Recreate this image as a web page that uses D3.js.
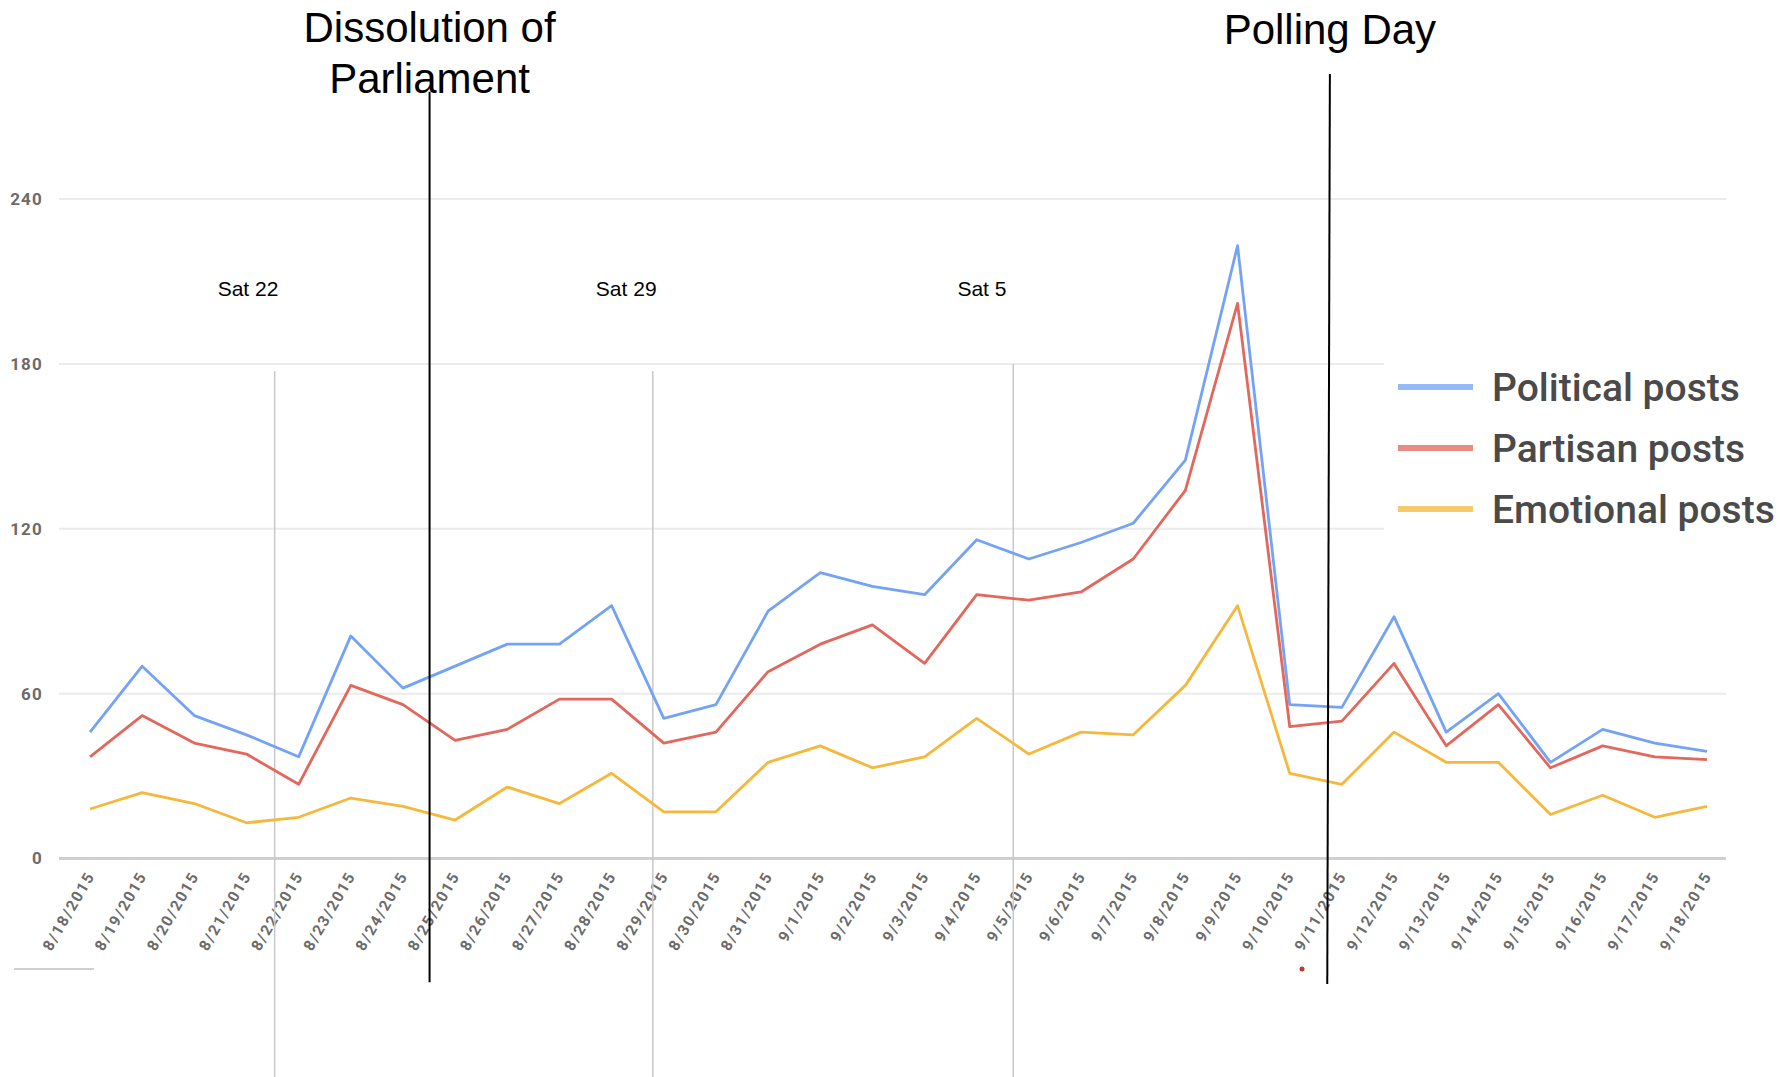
<!DOCTYPE html>
<html><head><meta charset="utf-8">
<script src="https://cdn.jsdelivr.net/npm/d3@7"></script>
<style>html,body{margin:0;padding:0;background:#fff;}svg{display:block;}</style>
</head><body>
<svg id="chart" width="1790" height="1077"></svg>
<script>
const dates = ["8/18/2015","8/19/2015","8/20/2015","8/21/2015","8/22/2015","8/23/2015","8/24/2015","8/25/2015","8/26/2015","8/27/2015","8/28/2015","8/29/2015","8/30/2015","8/31/2015","9/1/2015","9/2/2015","9/3/2015","9/4/2015","9/5/2015","9/6/2015","9/7/2015","9/8/2015","9/9/2015","9/10/2015","9/11/2015","9/12/2015","9/13/2015","9/14/2015","9/15/2015","9/16/2015","9/17/2015","9/18/2015"];
const political = [46,70,52,45,37,81,62,70,78,78,92,51,56,90,104,99,96,116,109,115,122,145,223,56,55,88,46,60,35,47,42,39];
const partisan  = [37,52,42,38,27,63,56,43,47,58,58,42,46,68,78,85,71,96,94,97,109,134,202,48,50,71,41,56,33,41,37,36];
const emotional = [18,24,20,13,15,22,19,14,26,20,31,17,17,35,41,33,37,51,38,46,45,63,92,31,27,46,35,35,16,23,15,19];
const seriesNames = ["Political posts","Partisan posts","Emotional posts"];
const yTicks = [0,60,120,180,240];
// annotations in data units (x = day index, y = value)
const satLabels = ["Sat 22","Sat 29","Sat 5"];
const satLineX = [3.54, 10.79, 17.7];
const satLabelX = [3.03, 10.28, 17.1];
const eventLabels = [["Dissolution of","Parliament"],["Polling Day"]];
const eventLineTop = [[6.51,279],[23.77,285.5]];
const eventLineBottom = [[6.51,-45],[23.72,-45.7]];

const colors = ["#74a3f6","#e2675c","#f5b83d"];
const svg = d3.select("#chart");
const x = d3.scaleLinear().domain([0, dates.length-1]).range([90,1707]);
const y = d3.scaleLinear().domain([0,240]).range([858.5,199]);
const gridX0 = 59, gridX1 = 1726, legendCut = 1384;

// gridlines
svg.append("g").selectAll("line").data(yTicks.filter(d=>d>0)).join("line")
  .attr("x1",gridX0).attr("x2",d=> (d===120||d===180)?legendCut:gridX1)
  .attr("y1",d=>y(d)).attr("y2",d=>y(d))
  .attr("stroke","#ebebeb").attr("stroke-width",2);
// baseline
svg.append("line").attr("x1",gridX0).attr("x2",gridX1).attr("y1",y(0)).attr("y2",y(0))
  .attr("stroke","#cfcfcf").attr("stroke-width",3);

// y axis labels
const yAxis = d3.axisLeft(y).tickValues(yTicks).tickSize(0).tickPadding(0);
const ya = svg.append("g").attr("transform","translate(43,0)").call(yAxis);
ya.select(".domain").remove();
ya.selectAll("text").attr("font-family","Roboto, Arial, sans-serif").attr("font-size",17)
  .attr("font-weight","bold").attr("fill","#6b6b6b").attr("letter-spacing","1.2px");

// x axis labels
const xAxis = d3.axisBottom(x).tickValues(d3.range(dates.length)).tickFormat(i=>dates[i]).tickSize(0).tickPadding(0);
const xa = svg.append("g").attr("transform","translate(0,873)").call(xAxis);
xa.select(".domain").remove();
xa.selectAll("text").attr("font-family","Roboto, Arial, sans-serif").attr("font-size",15.5)
  .attr("font-weight","bold").attr("fill","#6b6b6b").attr("letter-spacing","1.6px")
  .attr("text-anchor","end").attr("dy","0.35em").attr("y",0).attr("x",0)
  .attr("transform","rotate(-60)");

// Saturday lines
svg.append("g").selectAll("line").data(satLineX).join("line")
  .attr("x1",d=>x(d)).attr("x2",d=>x(d)).attr("y1",(d,i)=> i===2? y(180):y(177.4)).attr("y2",1077)
  .attr("stroke","#c8c8c8").attr("stroke-width",1.5);
svg.append("g").selectAll("text").data(satLabels).join("text")
  .attr("x",(d,i)=>x(satLabelX[i])).attr("y",296).attr("text-anchor","middle")
  .attr("font-family","Liberation Sans, Arial, sans-serif").attr("font-size",21).attr("fill","#000")
  .text(d=>d);

// series lines
const lineGen = d3.line().x((d,i)=>x(i)).y(d=>y(d));
[political, partisan, emotional].forEach((s,k)=>{
  svg.append("path").datum(s).attr("d",lineGen).attr("fill","none")
    .attr("stroke",colors[k]).attr("stroke-width",2.8).attr("stroke-linejoin","round");
});

// legend
const lg = svg.append("g");
seriesNames.forEach((n,i)=>{
  const ly = 387 + i*61;
  lg.append("line").attr("x1",1398).attr("x2",1473).attr("y1",ly).attr("y2",ly)
    .attr("stroke",colors[i]).attr("stroke-width",6).attr("opacity",0.75);
  lg.append("text").attr("x",1492).attr("y",ly).attr("dy","0.35em")
    .attr("font-family","Roboto, Arial, sans-serif").attr("font-size",39).attr("font-weight",500)
    .attr("fill","#4a4a4a").text(n);
});

// event lines
svg.append("g").selectAll("line").data(eventLineTop).join("line")
  .attr("x1",d=>x(d[0])).attr("y1",d=>y(d[1]))
  .attr("x2",(d,i)=>x(eventLineBottom[i][0])).attr("y2",(d,i)=>y(eventLineBottom[i][1]))
  .attr("stroke","#000").attr("stroke-width",2);
// event titles
const titleG = svg.append("g").attr("font-family","Liberation Sans, Arial, sans-serif").attr("font-size",42).attr("fill","#000").attr("text-anchor","middle");
titleG.append("text").attr("x",x(eventLineTop[0][0])).attr("y",42).text(eventLabels[0][0]);
titleG.append("text").attr("x",x(eventLineTop[0][0])).attr("y",93).text(eventLabels[0][1]);
titleG.append("text").attr("x",x(eventLineTop[1][0])).attr("y",44).text(eventLabels[1][0]);

// small artifacts
svg.append("line").attr("x1",14).attr("x2",94).attr("y1",969).attr("y2",969).attr("stroke","#d0d0d0").attr("stroke-width",2);
svg.append("circle").attr("cx",1302).attr("cy",969).attr("r",2.5).attr("fill","#c0392b");
</script>
</body></html>
